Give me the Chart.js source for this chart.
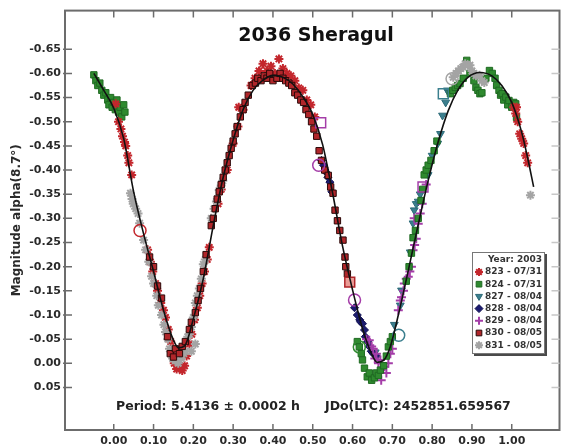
<!DOCTYPE html>
<html>
<head>
<meta charset="utf-8">
<script src="https://cdn.jsdelivr.net/npm/chart.js@4.4.0/dist/chart.umd.min.js"></script>
<style>
  html, body { margin: 0; padding: 0; background: #fff; }
  #wrap { width: 568px; height: 446px; }
</style>
</head>
<body>
<div id="wrap"><canvas id="lightcurve"></canvas></div>
<script>
// labels
const titleText = "2036 Sheragul";
const yTitle = "Magnitude alpha(8.7\u00b0)";
const periodText = "Period: 5.4136 \u00b1 0.0002 h";
const epochText = "JDo(LTC): 2452851.659567";
const yearLabel = "Year: 2003";
const sessions = ["823 - 07/31", "824 - 07/31", "827 - 08/04", "828 - 08/04", "829 - 08/04", "830 - 08/05", "831 - 08/05"];
const xTicks = [0.0, 0.1, 0.2, 0.3, 0.4, 0.5, 0.6, 0.7, 0.8, 0.9, 1.0];
const yTicks = [-0.65, -0.6, -0.55, -0.5, -0.45, -0.4, -0.35, -0.3, -0.25, -0.2, -0.15, -0.1, -0.05, 0.0, 0.05];

// fourier fit
const fitPhase = [-0.05, -0.025, 0, 0.025, 0.05, 0.075, 0.1, 0.125, 0.15, 0.163, 0.178, 0.2, 0.225, 0.25, 0.275, 0.3, 0.325, 0.35, 0.375, 0.4, 0.425, 0.45, 0.475, 0.5, 0.525, 0.55, 0.575, 0.6, 0.625, 0.645, 0.662, 0.678, 0.695, 0.715, 0.74, 0.765, 0.79, 0.815, 0.84, 0.865, 0.89, 0.92, 0.95, 0.975, 1.0, 1.025, 1.04, 1.055];
const fitMag = [-0.600, -0.565, -0.528, -0.465, -0.355, -0.268, -0.190, -0.110, -0.048, -0.032, -0.036, -0.092, -0.175, -0.285, -0.385, -0.462, -0.525, -0.565, -0.586, -0.596, -0.592, -0.578, -0.552, -0.515, -0.452, -0.352, -0.242, -0.152, -0.072, -0.025, -0.002, -0.006, -0.035, -0.100, -0.192, -0.287, -0.378, -0.458, -0.522, -0.566, -0.592, -0.602, -0.595, -0.575, -0.540, -0.478, -0.425, -0.365];

// session 823
const s823Phase = [0.005, 0.012, 0.018, 0.022, 0.027, 0.030, 0.035, 0.038, 0.045, 0.085, 0.092, 0.098, 0.105, 0.110, 0.118, 0.125, 0.130, 0.137, 0.143, 0.148, 0.152, 0.158, 0.165, 0.172, 0.178, 0.183, 0.190, 0.196, 0.203, 0.210, 0.216, 0.222, 0.228, 0.235, 0.240, 0.262, 0.270, 0.285, 0.300, 0.312, 0.314, 0.325, 0.345, 0.355, 0.365, 0.375, 0.385, 0.395, 0.405, 0.415, 0.425, 0.435, 0.445, 0.455, 0.465, 0.475, 0.485, 0.495, 0.505, 1.005, 1.010, 1.012, 1.015, 1.020, 1.025, 1.030, 1.035, 1.040];
const s823Mag = [-0.537, -0.500, -0.485, -0.470, -0.458, -0.450, -0.430, -0.415, -0.390, -0.235, -0.210, -0.190, -0.165, -0.150, -0.125, -0.110, -0.095, -0.070, -0.045, -0.020, 0.000, 0.012, 0.005, 0.015, 0.005, -0.015, -0.040, -0.060, -0.090, -0.115, -0.140, -0.165, -0.190, -0.215, -0.240, -0.330, -0.360, -0.400, -0.455, -0.490, -0.530, -0.525, -0.575, -0.590, -0.605, -0.620, -0.605, -0.615, -0.600, -0.630, -0.610, -0.600, -0.595, -0.585, -0.570, -0.565, -0.545, -0.535, -0.510, -0.530, -0.517, -0.530, -0.500, -0.475, -0.465, -0.455, -0.430, -0.415];

// session 824
const s824Phase = [-0.050, -0.045, -0.040, -0.035, -0.030, -0.025, -0.020, -0.015, -0.012, -0.008, -0.004, 0.000, 0.004, 0.008, 0.012, 0.016, 0.020, 0.025, 0.028, 0.612, 0.617, 0.622, 0.625, 0.630, 0.637, 0.642, 0.648, 0.655, 0.660, 0.665, 0.670, 0.678, 0.685, 0.690, 0.695, 0.700, 0.735, 0.742, 0.748, 0.752, 0.758, 0.765, 0.772, 0.776, 0.780, 0.785, 0.790, 0.797, 0.805, 0.812, 0.846, 0.852, 0.858, 0.864, 0.870, 0.878, 0.887, 0.895, 0.905, 0.910, 0.915, 0.920, 0.925, 0.935, 0.944, 0.951, 0.958, 0.962, 0.968, 0.972, 0.976, 0.980, 0.985, 0.990, 0.993, 1.000, 1.005, 1.010, 1.012];
const s824Mag = [-0.597, -0.585, -0.575, -0.580, -0.565, -0.555, -0.560, -0.545, -0.535, -0.550, -0.530, -0.540, -0.525, -0.545, -0.520, -0.530, -0.510, -0.535, -0.520, -0.045, -0.034, -0.020, -0.007, 0.010, 0.028, 0.020, 0.035, 0.030, 0.020, 0.025, 0.014, 0.005, -0.015, -0.034, -0.045, -0.055, -0.170, -0.200, -0.228, -0.260, -0.275, -0.300, -0.337, -0.360, -0.390, -0.400, -0.410, -0.420, -0.440, -0.460, -0.558, -0.565, -0.571, -0.575, -0.579, -0.590, -0.627, -0.600, -0.585, -0.571, -0.565, -0.558, -0.560, -0.590, -0.606, -0.600, -0.590, -0.575, -0.565, -0.555, -0.558, -0.545, -0.551, -0.535, -0.544, -0.530, -0.540, -0.537, -0.509];

// session 827
const s827Phase = [0.657, 0.705, 0.720, 0.723, 0.745, 0.752, 0.755, 0.760, 0.765, 0.770, 0.790, 0.800, 0.814, 0.821, 0.826, 0.834, 0.838, 0.842];
const s827Mag = [-0.023, -0.080, -0.120, -0.151, -0.230, -0.290, -0.317, -0.330, -0.335, -0.350, -0.390, -0.430, -0.455, -0.475, -0.513, -0.540, -0.565, -0.560];

// session 828
const s828Phase = [0.522, 0.527, 0.531, 0.534, 0.538, 0.543, 0.548, 0.605, 0.612, 0.618, 0.620, 0.625, 0.630, 0.632, 0.638, 0.642, 0.647, 0.652, 0.660];
const s828Mag = [-0.420, -0.410, -0.400, -0.395, -0.385, -0.375, -0.355, -0.115, -0.100, -0.090, -0.086, -0.082, -0.069, -0.055, -0.045, -0.035, -0.025, -0.020, -0.015];

// session 829
const s829Phase = [0.635, 0.642, 0.648, 0.652, 0.656, 0.660, 0.665, 0.670, 0.675, 0.680, 0.685, 0.672, 0.690, 0.695, 0.700, 0.715, 0.720, 0.723, 0.728, 0.730, 0.735, 0.740, 0.744, 0.748, 0.752, 0.756, 0.760, 0.765, 0.755, 0.770, 0.775, 0.785];
const s829Mag = [-0.050, -0.048, -0.035, -0.030, -0.010, -0.020, 0.000, -0.007, 0.010, 0.007, 0.020, 0.035, 0.000, -0.020, -0.030, -0.110, -0.130, -0.137, -0.150, -0.165, -0.175, -0.179, -0.190, -0.200, -0.234, -0.245, -0.258, -0.289, -0.300, -0.310, -0.330, -0.370];

// session 830
const s830Phase = [0.090, 0.100, 0.110, 0.120, 0.135, 0.142, 0.150, 0.155, 0.165, 0.172, 0.180, 0.190, 0.195, 0.205, 0.212, 0.218, 0.225, 0.232, 0.245, 0.250, 0.255, 0.260, 0.265, 0.270, 0.275, 0.280, 0.285, 0.290, 0.295, 0.300, 0.305, 0.310, 0.318, 0.325, 0.330, 0.338, 0.348, 0.356, 0.362, 0.370, 0.378, 0.385, 0.392, 0.400, 0.410, 0.418, 0.425, 0.432, 0.440, 0.447, 0.455, 0.462, 0.470, 0.477, 0.483, 0.490, 0.497, 0.503, 0.510, 0.516, 0.522, 0.530, 0.539, 0.545, 0.551, 0.556, 0.562, 0.568, 0.576, 0.581, 0.583, 0.587];
const s830Mag = [-0.220, -0.200, -0.160, -0.135, -0.055, -0.020, -0.013, -0.030, -0.020, -0.035, -0.045, -0.070, -0.085, -0.105, -0.130, -0.155, -0.190, -0.225, -0.285, -0.300, -0.320, -0.340, -0.355, -0.370, -0.385, -0.400, -0.415, -0.430, -0.445, -0.460, -0.475, -0.490, -0.510, -0.525, -0.540, -0.555, -0.575, -0.580, -0.590, -0.585, -0.595, -0.590, -0.600, -0.585, -0.590, -0.600, -0.590, -0.585, -0.580, -0.575, -0.560, -0.555, -0.545, -0.540, -0.525, -0.515, -0.500, -0.485, -0.470, -0.440, -0.420, -0.400, -0.389, -0.365, -0.352, -0.317, -0.295, -0.275, -0.255, -0.220, -0.200, -0.185];

// session 831
const s831Phase = [0.042, 0.046, 0.049, 0.055, 0.061, 0.065, 0.075, 0.080, 0.088, 0.095, 0.100, 0.108, 0.112, 0.120, 0.126, 0.130, 0.136, 0.140, 0.148, 0.155, 0.162, 0.170, 0.176, 0.180, 0.186, 0.190, 0.195, 0.200, 0.205, 0.210, 0.215, 0.220, 0.225, 0.230, 0.205, 0.195, 0.245, 0.252, 0.258, 0.265, 0.270, 0.274, 0.853, 0.860, 0.866, 0.872, 0.877, 0.883, 0.890, 0.895, 0.900, 0.905, 0.910, 0.919, 0.925, 0.931, 1.047];
const s831Mag = [-0.352, -0.340, -0.330, -0.320, -0.310, -0.290, -0.255, -0.235, -0.210, -0.180, -0.165, -0.140, -0.120, -0.100, -0.080, -0.065, -0.050, -0.030, -0.010, -0.005, 0.000, -0.010, -0.020, -0.025, -0.055, -0.060, -0.075, -0.095, -0.125, -0.140, -0.155, -0.175, -0.205, -0.215, -0.040, -0.025, -0.300, -0.320, -0.335, -0.358, -0.368, -0.378, -0.592, -0.600, -0.605, -0.610, -0.613, -0.620, -0.617, -0.617, -0.605, -0.600, -0.595, -0.596, -0.585, -0.581, -0.348];

// first points of sessions (hollow markers), session index into sessions[]
const ringPhase = [0.066, 0.515, 0.605, 0.617, 0.716, 0.850];
const ringMag = [-0.275, -0.410, -0.131, -0.034, -0.058, -0.589];
const ringSession = [0, 4, 4, 1, 2, 6];
const boxPhase = [0.520, 0.593, 0.777, 0.828];
const boxMag = [-0.498, -0.168, -0.365, -0.558];
const boxSession = [4, 5, 4, 2];

const colors = ["#c3262c", "#2f8a2f", "#3b7f8e", "#1b1b70", "#a43da8", "#b0262a", "#a4a4a4"];
const toPts = (xs, ys) => xs.map((x, i) => ({ x: x, y: ys[i] }));

const sessionData = [
  [s823Phase, s823Mag], [s824Phase, s824Mag], [s827Phase, s827Mag], [s828Phase, s828Mag],
  [s829Phase, s829Mag], [s830Phase, s830Mag], [s831Phase, s831Mag]
];
const styles = [
  { pointStyle: "star", pointRadius: 4.5, pointBorderWidth: 2, order: 4 },
  { pointStyle: "rect", pointRadius: 4.5, pointBorderWidth: 1, order: 5 },
  { pointStyle: "triangle", pointRadius: 4.5, pointRotation: 180, pointBorderWidth: 1, order: 8 },
  { pointStyle: "rectRot", pointRadius: 4, pointBorderWidth: 1, order: 7 },
  { pointStyle: "cross", pointRadius: 4.5, pointBorderWidth: 2, order: 6 },
  { pointStyle: "rect", pointRadius: 4.5, pointBorderWidth: 1, order: 2 },
  { pointStyle: "star", pointRadius: 4.5, pointBorderWidth: 2, order: 3 }
];
const borders = ["#c3262c", "#1f6a22", "#2c6a78", "#101050", "#a43da8", "#2a0808", "#a4a4a4"];

const datasets = sessions.map((name, i) => Object.assign({
  label: name,
  data: toPts(sessionData[i][0], sessionData[i][1]),
  backgroundColor: colors[i],
  borderColor: borders[i]
}, styles[i]));

datasets.push({
  label: "rings",
  data: toPts(ringPhase, ringMag),
  pointStyle: "circle",
  pointRadius: 6,
  pointBorderWidth: 1.5,
  backgroundColor: "rgba(255,255,255,0)",
  borderColor: ringSession.map(s => colors[s]),
  order: 1
});
datasets.push({
  label: "boxes",
  data: toPts(boxPhase, boxMag),
  pointStyle: "rect",
  pointRadius: 7,
  pointBorderWidth: 1.5,
  backgroundColor: boxSession.map(s => s === 5 ? "rgba(220,90,80,0.6)" : "rgba(255,255,255,0)"),
  borderColor: boxSession.map(s => colors[s]),
  order: 1
});
datasets.push({
  type: "line",
  label: "fit",
  data: toPts(fitPhase, fitMag),
  borderColor: "#111",
  borderWidth: 1.6,
  pointRadius: 0,
  showLine: true,
  fill: false,
  cubicInterpolationMode: "monotone",
  order: 0
});

const FONT = "DejaVu Sans";

const framePlugin = {
  id: "frame",
  beforeDatasetsDraw(chart) {
    const ctx = chart.ctx;
    const a = chart.chartArea;
    const x = chart.scales.x, y = chart.scales.y;
    ctx.save();
    ctx.strokeStyle = "#6c6c6c";
    ctx.lineWidth = 2;
    ctx.strokeRect(a.left, a.top, a.right - a.left, a.bottom - a.top);
    ctx.lineWidth = 1.5;
    ctx.beginPath();
    x.ticks.forEach(t => {
      const px = x.getPixelForValue(t.value);
      ctx.moveTo(px, a.top); ctx.lineTo(px, a.top + 7);
      ctx.moveTo(px, a.bottom); ctx.lineTo(px, a.bottom - 6);
    });
    y.ticks.forEach(t => {
      const py = y.getPixelForValue(t.value);
      ctx.moveTo(a.left - 2, py); ctx.lineTo(a.left + 7, py);
    });
    ctx.stroke();
    ctx.strokeStyle = "#c8c8c8";
    ctx.beginPath();
    y.ticks.forEach(t => {
      const py = y.getPixelForValue(t.value);
      ctx.moveTo(a.right - 8, py); ctx.lineTo(a.right, py);
    });
    ctx.stroke();
    ctx.restore();
  }
};

const textPlugin = {
  id: "texts",
  afterDraw(chart) {
    const ctx = chart.ctx;
    ctx.save();
    ctx.fillStyle = "#111";
    ctx.textBaseline = "middle";
    ctx.textAlign = "center";
    ctx.font = "bold 19px '" + FONT + "'";
    ctx.fillText(titleText, 316, 36);
    ctx.fillStyle = "#222";
    ctx.textAlign = "left";
    ctx.font = "bold 12.5px '" + FONT + "'";
    ctx.fillText(periodText, 116, 407);
    ctx.fillText(epochText, 325, 407);

    // legend box
    const bx = 472, by = 252, bw = 73, bh = 102;
    ctx.fillStyle = "#4a4a4a";
    ctx.fillRect(bx + 2, by + 2, bw, bh);
    ctx.fillStyle = "#fff";
    ctx.fillRect(bx, by, bw, bh);
    ctx.strokeStyle = "#777";
    ctx.lineWidth = 1;
    ctx.strokeRect(bx + 0.5, by + 0.5, bw - 1, bh - 1);
    ctx.font = "bold 9px '" + FONT + "'";
    ctx.fillStyle = "#333";
    ctx.textAlign = "right";
    ctx.fillText(yearLabel, bx + bw - 3, by + 7.5);
    ctx.textAlign = "left";
    sessions.forEach((name, i) => {
      const ds = datasets[i];
      const cy = by + 20 + i * 12.2;
      ctx.fillStyle = ds.backgroundColor;
      ctx.strokeStyle = ds.borderColor;
      ctx.lineWidth = ds.pointBorderWidth;
      Chart.helpers.drawPoint(ctx, {
        pointStyle: ds.pointStyle,
        radius: Math.min(ds.pointRadius, 4),
        rotation: ds.pointRotation || 0,
        borderWidth: ds.pointBorderWidth
      }, bx + 7, cy);
      ctx.fillStyle = "#333";
      ctx.fillText(name, bx + 13, cy);
    });
    ctx.restore();
  }
};

new Chart(document.getElementById("lightcurve"), {
  type: "scatter",
  data: { datasets: datasets },
  options: {
    responsive: true,
    maintainAspectRatio: false,
    animation: false,
    layout: { padding: { top: 10, right: -4, left: 0, bottom: 0 } },
    plugins: {
      legend: { display: false },
      tooltip: { enabled: false },
      title: { display: false }
    },
    scales: {
      x: {
        type: "linear",
        min: -0.1225,
        max: 1.12,
        grid: { display: false, drawTicks: false },
        border: { display: false },
        afterBuildTicks: (scale) => { scale.ticks = xTicks.map(v => ({ value: v })); },
        afterFit: (scale) => { scale.height = 16; },
        ticks: {
          padding: 5,
          color: "#2a2a2a",
          font: { family: FONT, size: 11, weight: "bold" },
          callback: (v) => Number(v).toFixed(2)
        }
      },
      y: {
        type: "linear",
        reverse: true,
        min: -0.73,
        max: 0.138,
        grid: { display: false, drawTicks: false },
        border: { display: false },
        afterBuildTicks: (scale) => { scale.ticks = yTicks.map(v => ({ value: v })); },
        afterFit: (scale) => { scale.width = 65; },
        title: {
          display: true,
          text: yTitle,
          color: "#2a2a2a",
          font: { family: FONT, size: 12, weight: "bold" },
          padding: { top: 10, bottom: 0 }
        },
        ticks: {
          padding: 4,
          color: "#2a2a2a",
          font: { family: FONT, size: 11, weight: "bold" },
          callback: (v) => Number(v).toFixed(2)
        }
      }
    }
  },
  plugins: [framePlugin, textPlugin]
});
</script>
</body>
</html>
